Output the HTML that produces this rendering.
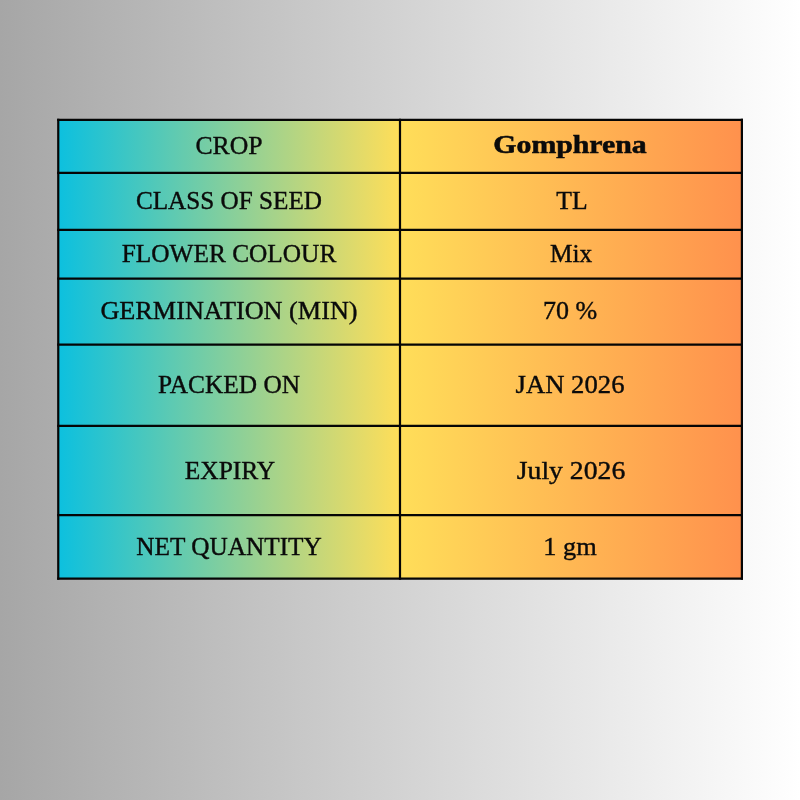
<!DOCTYPE html>
<html lang="en"><head><meta charset="utf-8"><title>Seed label</title>
<style>
html,body{margin:0;padding:0}
body{width:800px;height:800px;overflow:hidden;position:relative;background:linear-gradient(90deg,#a6a6a6 0%,#ffffff 100%);font-family:"Liberation Serif","DejaVu Serif",serif;color:#0b0b0b}
.g{position:absolute}
.l{background:linear-gradient(90deg,#0cc0df,#ffde59)}
.r{background:linear-gradient(90deg,#ffde59,#ff914d)}
.t{position:absolute;width:0;height:0}
.t span{position:absolute;left:0;top:0;display:block;line-height:1em;white-space:nowrap;transform-origin:50% 50%;-webkit-text-stroke:0.4px #0b0b0b}
.t b{font-weight:700;-webkit-text-stroke:0.55px #0b0b0b}
</style></head><body>

<div class="g l" style="left:58.25px;top:119.8px;width:341.75px;height:458.8px"></div>
<div class="g r" style="left:400.0px;top:119.8px;width:341.9px;height:458.8px"></div>
<svg class="lines" width="800" height="800" viewBox="0 0 800 800" style="position:absolute;left:0;top:0" fill="none" stroke="#050505" stroke-width="2.2" stroke-linecap="square">
<line x1="58.25" y1="119.8" x2="741.9" y2="119.8"/>
<line x1="58.25" y1="172.9" x2="741.9" y2="172.9"/>
<line x1="58.25" y1="229.9" x2="741.9" y2="229.9"/>
<line x1="58.25" y1="278.6" x2="741.9" y2="278.6"/>
<line x1="58.25" y1="344.6" x2="741.9" y2="344.6"/>
<line x1="58.25" y1="425.9" x2="741.9" y2="425.9"/>
<line x1="58.25" y1="515.1" x2="741.9" y2="515.1"/>
<line x1="58.25" y1="578.6" x2="741.9" y2="578.6"/>
<line x1="58.25" y1="119.8" x2="58.25" y2="578.6"/>
<line x1="400.0" y1="119.8" x2="400.0" y2="578.6"/>
<line x1="741.9" y1="119.8" x2="741.9" y2="578.6"/>
</svg>
<div class="t" style="left:228.67px;top:132.75px"><span style="font-size:26.0px;transform:translateX(-50%) scaleX(0.9892)">CROP</span></div>
<div class="t" style="left:228.61px;top:187.75px"><span style="font-size:26.0px;transform:translateX(-50%) scaleX(0.9686)">CLASS OF SEED</span></div>
<div class="t" style="left:228.60px;top:240.75px"><span style="font-size:26.0px;transform:translateX(-50%) scaleX(0.9744)">FLOWER COLOUR</span></div>
<div class="t" style="left:228.59px;top:297.75px"><span style="font-size:26.0px;transform:translateX(-50%) scaleX(1.0090)">GERMINATION (MIN)</span></div>
<div class="t" style="left:228.72px;top:371.75px"><span style="font-size:26.0px;transform:translateX(-50%) scaleX(0.9748)">PACKED ON</span></div>
<div class="t" style="left:229.61px;top:457.75px"><span style="font-size:26.0px;transform:translateX(-50%) scaleX(0.9785)">EXPIRY</span></div>
<div class="t" style="left:228.51px;top:533.75px"><span style="font-size:26.0px;transform:translateX(-50%) scaleX(0.9714)">NET QUANTITY</span></div>
<div class="t" style="left:569.71px;top:131.75px"><span style="font-size:26.0px;transform:translateX(-50%) scaleX(1.1453)"><b>Gomphrena</b></span></div>
<div class="t" style="left:571.66px;top:187.75px"><span style="font-size:26.0px;transform:translateX(-50%) scaleX(0.9864)">TL</span></div>
<div class="t" style="left:570.72px;top:240.75px"><span style="font-size:26.0px;transform:translateX(-50%) scaleX(0.9740)">Mix</span></div>
<div class="t" style="left:569.57px;top:297.75px"><span style="font-size:26.0px;transform:translateX(-50%) scaleX(1.0009)">70 %</span></div>
<div class="t" style="left:569.53px;top:371.75px"><span style="font-size:26.0px;transform:translateX(-50%) scaleX(1.0266)">JAN 2026</span></div>
<div class="t" style="left:570.63px;top:457.75px"><span style="font-size:26.0px;transform:translateX(-50%) scaleX(1.0650)">July 2026</span></div>
<div class="t" style="left:569.66px;top:533.75px"><span style="font-size:26.0px;transform:translateX(-50%) scaleX(1.0133)">1 gm</span></div>
</body></html>
